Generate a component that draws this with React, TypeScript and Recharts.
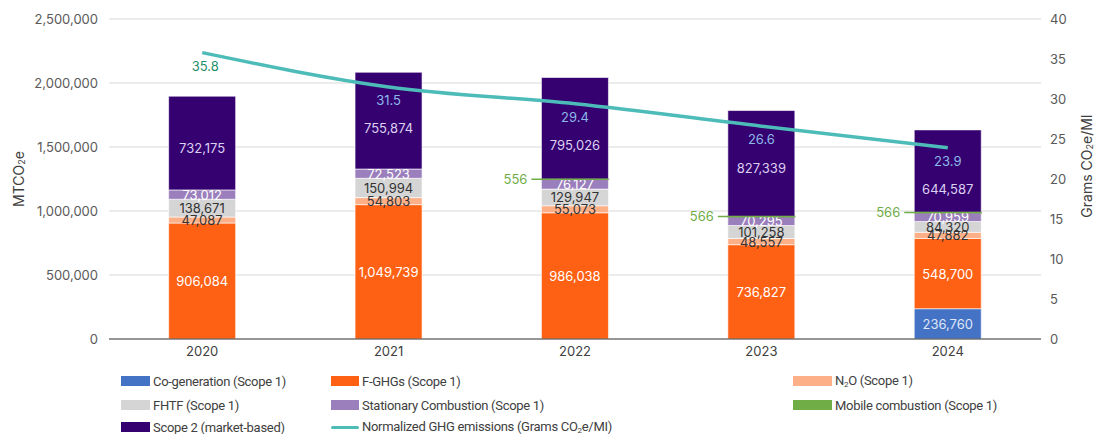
import React from "react";
import {
  ComposedChart,
  Bar,
  Line,
  XAxis,
  YAxis,
  CartesianGrid,
  LabelList,
} from "recharts";

const years = ["2020", "2021", "2022", "2023", "2024"];
const coGeneration = [0, 0, 0, 0, 236760];
const fGhgs = [906084, 1049739, 986038, 736827, 548700];
const n2o = [47087, 54803, 55073, 48557, 47882];
const fhtf = [138671, 150994, 129947, 101258, 84320];
const stationary = [73012, 72523, 76127, 70295, 70959];
const mobile = [null, null, 556, 566, 566];
const scope2 = [732175, 755874, 795026, 827339, 644587];
const normalized = [35.8, 31.5, 29.4, 26.6, 23.9];

const leftTicks = [0, 500000, 1000000, 1500000, 2000000, 2500000];
const rightTicks = [0, 5, 10, 15, 20, 25, 30, 35, 40];
const RIGHT_MAX = 40;

const FONT = "Inter, 'Noto Sans', sans-serif";
const LEGEND_FONT = "Roboto, Inter, sans-serif";
const PLOT_TOP = 19;
const PLOT_H = 320;
const LINE_LABEL_DY = 13;

const series = [
  { key: "cogen", name: "Co-generation (Scope 1)", color: "#4472c4", text: "#dfe6f6" },
  { key: "fghg", name: "F-GHGs (Scope 1)", color: "#ff6114", text: "#ffffff" },
  { key: "n2o", name: "N2O (Scope 1)", color: "#fdaf88", text: "#333333" },
  { key: "fhtf", name: "FHTF (Scope 1)", color: "#d5d5d5", text: "#333333" },
  { key: "stationary", name: "Stationary Combustion (Scope 1)", color: "#9b7fbd", text: "#ffffff" },
  { key: "mobile", name: "Mobile combustion (Scope 1)", color: "#70ad47", text: "#70ad47" },
  { key: "scope2", name: "Scope 2 (market-based)", color: "#350070", text: "#dcd0f2" },
];

const data = years.map((year, i) => ({
  year,
  cogen: coGeneration[i],
  fghg: fGhgs[i],
  n2o: n2o[i],
  fhtf: fhtf[i],
  stationary: stationary[i],
  mobile: mobile[i],
  scope2: scope2[i],
  normalized: normalized[i],
}));

const fmt = (v: any) => Number(v).toLocaleString("en-US");

// pulls x/y/width/height whether they come flat or in viewBox
const box = (p: any) => {
  const vb = p.viewBox || {};
  return {
    x: vb.x ?? p.x ?? 0,
    y: vb.y ?? p.y ?? 0,
    width: vb.width ?? p.width ?? 0,
    height: vb.height ?? p.height ?? 0,
  };
};

const lineLabelY = (i: number) =>
  PLOT_TOP + PLOT_H * (1 - normalized[i] / RIGHT_MAX) + LINE_LABEL_DY;

const makeBarLabel = (fill: string, isScope2: boolean) => (props: any) => {
  if (!props.value) return null;
  const { x, y, width, height } = box(props);
  let cy = y + height / 2;
  // keep scope 2 labels clear of the line labels
  if (isScope2) cy = Math.max(cy + 5, lineLabelY(props.index) + 28);
  return (
    <text
      x={x + width / 2}
      y={cy}
      textAnchor="middle"
      dominantBaseline="central"
      fill={fill}
      fontSize={13}
      fontFamily={FONT}
    >
      {fmt(props.value)}
    </text>
  );
};

const MobileLabel = (props: any) => {
  if (!props.value) return null;
  const { x, y, width, height } = box(props);
  const cy = y + height / 2;
  return (
    <g>
      <line x1={x - 10} x2={x + width} y1={cy} y2={cy} stroke="#70ad47" strokeWidth={1.5} />
      <text
        x={x - 14}
        y={cy}
        textAnchor="end"
        dominantBaseline="central"
        fill="#70ad47"
        fontSize={13}
        fontFamily={FONT}
      >
        {props.value}
      </text>
    </g>
  );
};

const LineLabel = (props: any) => {
  const { x, y } = box(props);
  const first = props.index === 0;
  return (
    <text
      x={x + (first ? 3 : 0)}
      y={y + LINE_LABEL_DY}
      textAnchor="middle"
      dominantBaseline="central"
      fill={first ? "#1f8f6a" : "#8cb9ea"}
      fontSize={13}
      fontFamily={FONT}
    >
      {props.value}
    </text>
  );
};

const LeftTitle = () => (
  <text
    x={18}
    y={179}
    transform="rotate(-90 18 179)"
    textAnchor="middle"
    dominantBaseline="central"
    fill="#404040"
    fontSize={14}
    fontFamily={FONT}
  >
    MTCO<tspan fontSize={9} dy={3}>2</tspan>
    <tspan dy={-3}>e</tspan>
  </text>
);

const RightTitle = () => (
  <text
    x={1086}
    y={166}
    transform="rotate(-90 1086 166)"
    textAnchor="middle"
    dominantBaseline="central"
    fill="#404040"
    fontSize={14}
    fontFamily={FONT}
  >
    Grams CO<tspan fontSize={9} dy={3}>2</tspan>
    <tspan dy={-3}>e/MI</tspan>
  </text>
);

const legendItems = [
  ...series.map((s) => ({ name: s.name, color: s.color, line: false })),
  { name: "Normalized GHG emissions (Grams CO2e/MI)", color: "#4dbcb8", line: true },
];
const colX = [121, 331, 793];
const colSwatch = [29, 28, 39];
const rowY = [381, 405, 427];

const withSub = (name: string) => {
  const parts = name.split(/(N2O|CO2e)/);
  return parts.map((p, i) => {
    if (p === "N2O")
      return (
        <span key={i}>
          N<sub style={{ fontSize: 8, verticalAlign: "-2px" }}>2</sub>O
        </span>
      );
    if (p === "CO2e")
      return (
        <span key={i}>
          CO<sub style={{ fontSize: 8, verticalAlign: "-2px" }}>2</sub>e
        </span>
      );
    return <span key={i}>{p}</span>;
  });
};

export default function App() {
  return (
    <div
      style={{
        position: "absolute",
        left: 0,
        top: 0,
        width: 1096,
        height: 434,
        background: "#fff",
        fontFamily: FONT,
        overflow: "hidden",
      }}
    >
      <ComposedChart
        width={1096}
        height={369}
        data={data}
        margin={{ top: PLOT_TOP, right: 0, bottom: 0, left: 0 }}
        barCategoryGap="32%"
      >
        <CartesianGrid yAxisId="left" vertical={false} stroke="#d9d9d9" />
        <XAxis
          dataKey="year"
          height={30}
          tickLine={false}
          axisLine={{ stroke: "#404040" }}
          tick={{ fill: "#404040", fontSize: 13, fontFamily: FONT }}
        />
        <YAxis
          yAxisId="left"
          width={109}
          domain={[0, 2500000]}
          ticks={leftTicks}
          tickFormatter={(v) => Number(v).toLocaleString("en-US")}
          axisLine={false}
          tickLine={false}
          tickMargin={5}
          tick={{ fill: "#595959", fontSize: 13, fontFamily: FONT }}
          label={<LeftTitle />}
        />
        <YAxis
          yAxisId="right"
          orientation="right"
          width={55}
          domain={[0, RIGHT_MAX]}
          ticks={rightTicks}
          axisLine={false}
          tickLine={false}
          tickMargin={3}
          tick={{ fill: "#595959", fontSize: 13, fontFamily: FONT }}
          label={<RightTitle />}
        />
        {series.map((s) => (
          <Bar
            key={s.key}
            yAxisId="left"
            dataKey={s.key}
            name={s.name}
            stackId="ghg"
            fill={s.color}
            stroke={s.key === "mobile" ? "#70ad47" : "#ffffff"}
            strokeWidth={s.key === "mobile" ? 1.5 : 0.6}
            isAnimationActive={false}
          >
            {s.key === "mobile" ? (
              <LabelList dataKey={s.key} content={<MobileLabel />} />
            ) : (
              <LabelList
                dataKey={s.key}
                content={makeBarLabel(s.text, s.key === "scope2")}
              />
            )}
          </Bar>
        ))}
        <Line
          yAxisId="right"
          type="monotone"
          dataKey="normalized"
          stroke="#4dbcb8"
          strokeWidth={3.5}
          dot={false}
          isAnimationActive={false}
        >
          <LabelList dataKey="normalized" content={<LineLabel />} />
        </Line>
      </ComposedChart>
      {legendItems.map((item, i) => {
        const col = i % 3;
        const row = Math.floor(i / 3);
        const sw = colSwatch[col];
        return (
          <div
            key={item.name}
            style={{
              position: "absolute",
              left: colX[col],
              top: rowY[row] - 9,
              height: 18,
              display: "flex",
              alignItems: "center",
              fontSize: 13,
              letterSpacing: -0.3,
              fontFamily: LEGEND_FONT,
              color: "#404040",
              whiteSpace: "nowrap",
            }}
          >
            <span
              style={{
                display: "inline-block",
                width: sw,
                height: item.line ? 3 : 10,
                borderRadius: item.line ? 2 : 0,
                background: item.color,
                marginRight: 3,
              }}
            />
            <span>{withSub(item.name)}</span>
          </div>
        );
      })}
    </div>
  );
}
